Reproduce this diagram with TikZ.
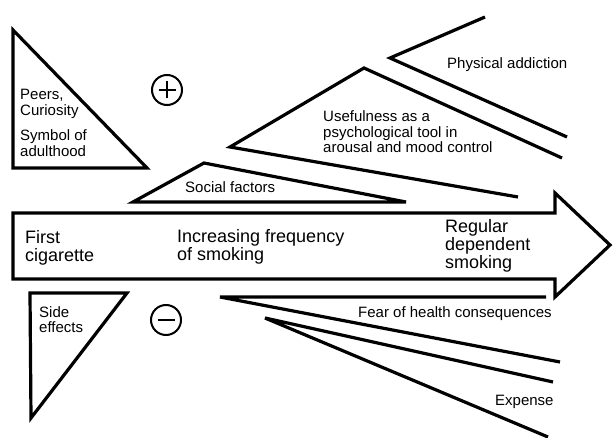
\documentclass[tikz,border=0pt]{standalone}
\usepackage{fontspec}
\setmainfont{Liberation Sans}
\begin{document}
\begin{tikzpicture}[x=1pt,y=-1pt,
  shp/.style={line width=3.2pt, line join=miter},
  sign/.style={line width=2pt},
  small/.style={font=\fontsize{15}{16}\selectfont, inner sep=0pt, anchor=base west},
  big/.style={font=\fontsize{18}{18}\selectfont, inner sep=0pt, anchor=base west}]
\useasboundingbox (0,0) rectangle (613,438);
% coordinates
\coordinate (tlA) at (13,30);
\coordinate (tlB) at (13,168);
\coordinate (tlC) at (147,168);
\coordinate (sfL) at (133,202);
\coordinate (sfT) at (204,163);
\coordinate (sfR) at (406,202);
\coordinate (usA) at (562,158);
\coordinate (usT) at (364,68);
\coordinate (usL) at (230,147);
\coordinate (usB) at (518,197);
\coordinate (paA) at (485,17);
\coordinate (paT) at (390,58);
\coordinate (paB) at (567,137);
\coordinate (fhE) at (546,297);
\coordinate (fhT) at (220,297);
\coordinate (fhB) at (560,362);
\coordinate (exA) at (553,382);
\coordinate (exT) at (265,318);
\coordinate (exB) at (548,437);
\coordinate (seA) at (30,293);
\coordinate (seB) at (127,293);
\coordinate (seC) at (31,418);
% shapes
\draw[shp] (tlA) -- (tlB) -- (tlC) -- cycle;
\draw[shp] (sfL) -- (sfT) -- (sfR) -- cycle;
\draw[shp] (usA) -- (usT) -- (usL) -- (usB);
\draw[shp] (paA) -- (paT) -- (paB);
\draw[shp] (13,213) -- (555,213) -- (555,193) -- (610,245) -- (555,297) -- (555,279) -- (13,279) -- cycle;
\draw[shp] (fhE) -- (fhT) -- (fhB);
\draw[shp] (exA) -- (exT) -- (exB);
\draw[shp] (seA) -- (seB) -- (seC) -- cycle;
% plus / minus
\node[sign, draw, circle, minimum size=30pt, inner sep=0pt] (plus) at (167,90) {};
\draw[sign] ([xshift=-8.5pt]plus.center) -- ([xshift=8.5pt]plus.center);
\draw[sign] ([yshift=-8.5pt]plus.center) -- ([yshift=8.5pt]plus.center);
\node[sign, draw, circle, minimum size=30pt, inner sep=0pt] (minus) at (166,320) {};
\draw[sign] ([xshift=-8.5pt]minus.center) -- ([xshift=8.5pt]minus.center);
% texts
\node[small] (t1) at (20,100) {Peers,};
\node[small] (t2) at (20,116) {Curiosity};
\node[small] (t3) at (20,141) {Symbol of};
\node[small] (t4) at (20,157) {adulthood};
\node[small] (t5) at (185,193) {Social factors};
\node[small] (t6) at (323,122) {Usefulness as a};
\node[small] (t7) at (323,138) {psychological tool in};
\node[small] (t8) at (323,153) {arousal and mood control};
\node[small] (t9) at (447,69) {Physical addiction};
\node[big] (t10) at (25,244) {First};
\node[big] (t11) at (25,262) {cigarette};
\node[big] (t12) at (177,243) {Increasing frequency};
\node[big] (t13) at (177,261) {of smoking};
\node[big] (t14) at (445,233) {Regular};
\node[big] (t15) at (445,251) {dependent};
\node[big] (t16) at (445,269) {smoking};
\node[small] (t17) at (358,318) {Fear of health consequences};
\node[small] (t18) at (39,318) {Side};
\node[small] (t19) at (39,333) {effects};
\node[small] (t20) at (495,405) {Expense};
\end{tikzpicture}
\end{document}
